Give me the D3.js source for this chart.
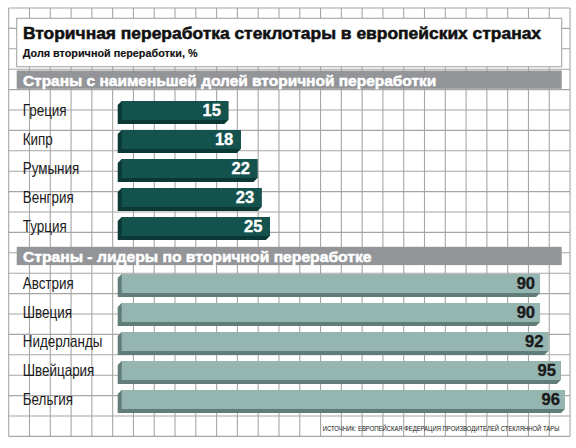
<!DOCTYPE html>
<html>
<head>
<meta charset="utf-8">
<script src="https://cdn.jsdelivr.net/npm/d3@7"></script>
<style>
  html, body { margin: 0; padding: 0; background: #fff; }
  svg { display: block; }
</style>
</head>
<body>
<svg id="chart" width="576" height="448"></svg>
<script>
// ---- DATA ----
const titleText = "Вторичная переработка стеклотары в европейских странах";
const subtitleText = "Доля вторичной переработки, %";
const lowHeader = "Страны с наименьшей долей вторичной переработки";
const topHeader = "Страны - лидеры по вторичной переработке";
const sourceText = "ИСТОЧНИК: ЕВРОПЕЙСКАЯ ФЕДЕРАЦИЯ ПРОИЗВОДИТЕЛЕЙ СТЕКЛЯННОЙ ТАРЫ";

const lowCountries = ["Греция", "Кипр", "Румыния", "Венгрия", "Турция"];
const lowValues = [15, 18, 22, 23, 25];
const topCountries = ["Австрия", "Швеция", "Нидерланды", "Швейцария", "Бельгия"];
const topValues = [90, 90, 92, 95, 96];

// ---- LAYOUT ----
const svg = d3.select("#chart");
const FONT = "'Liberation Sans', Arial, sans-serif";

// place a text so that it spans a given width, by horizontal scaling
function fitText(sel, x0, y0, width) {
  const w = sel.node().getComputedTextLength();
  sel.attr("transform", `translate(${x0},${y0}) scale(${width / w},1)`);
  return sel;
}

// background grid
const gridX0 = 8.7, gridStepX = 20.79, gridCols = 27;
const gridY0 = 8, gridStepY = 20.4, gridRows = 21;
const gridColor = "#a6a6a6";
const grid = svg.append("g");
d3.range(gridCols + 1).forEach(i => {
  const gx = gridX0 + i * gridStepX;
  grid.append("line").attr("x1", gx).attr("x2", gx)
    .attr("y1", gridY0).attr("y2", gridY0 + gridRows * gridStepY)
    .attr("stroke", gridColor).attr("stroke-width", 1.1);
});
d3.range(gridRows + 1).forEach(i => {
  const gy = gridY0 + i * gridStepY;
  grid.append("line").attr("y1", gy).attr("y2", gy)
    .attr("x1", gridX0).attr("x2", gridX0 + gridCols * gridStepX)
    .attr("stroke", gridColor).attr("stroke-width", 1.1);
});

// title box
const boxL = 16.7, boxR = 561.7;
svg.append("rect").attr("x", boxL).attr("y", 18.3).attr("width", boxR - boxL).attr("height", 48.4)
  .attr("fill", "#fff").attr("stroke", "#a6a6a6").attr("stroke-width", 1.1);
fitText(svg.append("text")
  .attr("font-family", FONT).attr("font-weight", "bold").attr("font-size", 17)
  .attr("fill", "#111").attr("stroke", "#111").attr("stroke-width", 0.55)
  .text(titleText), 22.9, 38.6, 518.5);
fitText(svg.append("text")
  .attr("font-family", FONT).attr("font-weight", "bold").attr("font-size", 10.5)
  .attr("fill", "#111").attr("stroke", "#111").attr("stroke-width", 0.15)
  .text(subtitleText), 22.7, 57.3, 175);

// scales
const x = d3.scaleLinear().domain([0, 100]).range([166, 581.6]);
const faceLeft = 121.7;
const depth = 4;

function sectionHeader(y, txt, len) {
  svg.append("rect").attr("x", boxL).attr("y", y).attr("width", boxR - boxL).attr("height", 18.3)
    .attr("fill", "#939598");
  fitText(svg.append("text")
    .attr("font-family", FONT).attr("font-weight", "bold").attr("font-size", 15)
    .attr("fill", "#fff").attr("stroke", "#fff").attr("stroke-width", 0.5)
    .text(txt), 22.9, y + 15, len);
}

function drawSection(countries, values, yStart, opts) {
  const y = d3.scaleBand().domain(countries).range([yStart, yStart + 135]).paddingInner(0.345);
  const bw = y.bandwidth();
  const g = svg.append("g");
  const rows = g.selectAll("g.row").data(countries.map((c, i) => ({ c, v: values[i] })))
    .join("g").attr("class", "row");
  // extrusion (bottom-left)
  rows.append("path")
    .attr("d", d => {
      const t = y(d.c), b = t + bw, r = x(d.v);
      return `M${faceLeft},${t} L${faceLeft - depth},${t + depth} L${faceLeft - depth},${b + depth} L${r - depth},${b + depth} L${r},${b} L${r},${t} Z`;
    })
    .attr("fill", opts.side);
  // face
  rows.append("rect")
    .attr("x", faceLeft).attr("y", d => y(d.c))
    .attr("width", d => x(d.v) - faceLeft).attr("height", bw)
    .attr("fill", opts.face);
  // value labels
  rows.append("text")
    .attr("x", d => x(d.v) - opts.pad).attr("y", d => y(d.c) + bw / 2 + 5.8)
    .attr("text-anchor", "end")
    .attr("font-family", FONT).attr("font-weight", "bold").attr("font-size", 16.5)
    .attr("fill", opts.label).attr("stroke", opts.label).attr("stroke-width", 0.35)
    .text(d => d.v);
  // country labels
  rows.append("text")
    .attr("transform", d => `translate(22.7,${y(d.c) + bw / 2 + 5.8}) scale(0.83,1)`)
    .attr("font-family", FONT).attr("font-size", 16.2)
    .attr("fill", "#1a1a1a").text(d => d.c);
}

sectionHeader(70.5, lowHeader, 413.5);
drawSection(lowCountries, lowValues, 101, { face: "#14524e", side: "#0b3835", label: "#fff", pad: 7.5 });

sectionHeader(246.8, topHeader, 349);
drawSection(topCountries, topValues, 274, { face: "#95b5b1", side: "#617c79", label: "#1a1a1a", pad: 5 });

// source
fitText(svg.append("text")
  .attr("font-family", FONT).attr("font-size", 8)
  .attr("fill", "#111")
  .text(sourceText), 322.7, 430.8, 237.5);
</script>
</body>
</html>
